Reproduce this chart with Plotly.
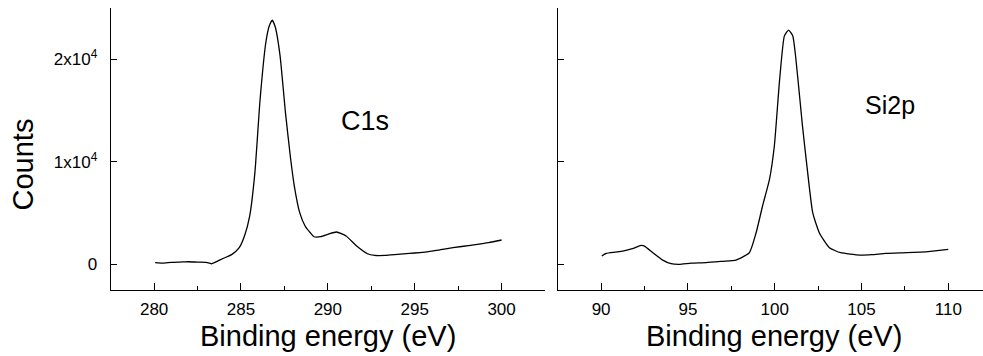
import plotly.graph_objects as go

# C1s spectrum (binding energy eV, counts)
c1s_energy = [280.06, 280.5, 281.0, 281.5, 282.0, 282.5, 283.0, 283.3, 283.65, 284.0, 284.48,
              284.9, 285.2, 285.5, 285.8, 286.1, 286.43, 286.63, 286.8, 286.98, 287.25,
              287.56, 287.86, 288.07, 288.38, 288.69, 288.99, 289.2, 289.6, 290.0, 290.5,
              291.05, 291.66, 292.28, 292.7, 293.3, 294.0, 294.7, 295.3, 295.8, 296.4,
              297.2, 298.2, 299.26, 300.0]
c1s_counts = [163, 120, 200, 230, 260, 220, 200, 65, 325, 600, 977,
              1630, 2770, 4720, 8960, 16120, 21660, 23290, 23840, 23130, 20360,
              14820, 10260, 7650, 5050, 3750, 3090, 2700, 2700, 2930, 3160,
              2770, 1790, 1040, 880, 880, 980, 1075, 1150, 1240, 1400,
              1630, 1860, 2120, 2380]

# Si2p spectrum
si2p_energy = [90.04, 90.29, 90.8, 91.25, 91.8, 92.3, 92.5, 92.98, 93.55, 94.03, 94.5,
               95.2, 96.05, 97.0, 97.77, 98.54, 98.93, 99.3, 99.7, 99.98, 100.27,
               100.56, 100.8, 101.04, 101.32, 101.6, 101.9, 102.19, 102.57, 103.15,
               103.8, 104.9, 105.6, 106.4, 107.6, 108.4, 109.1, 110.0]
si2p_counts = [815, 1075, 1200, 1300, 1530, 1860, 1790, 1140, 420, 65, 0,
               120, 163, 300, 420, 1140, 3090, 5700, 8300, 11560, 17750,
               22310, 22870, 22310, 18400, 13520, 8960, 5050, 3090, 1630,
               1140, 910, 950, 1075, 1140, 1200, 1300, 1470]

x_ticks_c = [280, 285, 290, 295, 300]
x_ticks_si = [90, 95, 100, 105, 110]
y_tickvals = [0, 10000, 20000]
y_ticktext = ["0", "1x10<sup>4</sup>", "2x10<sup>4</sup>"]

W, H = 983, 356
FONT = "Liberation Sans, Arial, sans-serif"

fig = go.Figure()
fig.add_trace(go.Scatter(x=c1s_energy, y=c1s_counts, mode="lines",
                         line=dict(color="black", width=1.3, shape="spline", smoothing=0.5),
                         xaxis="x", yaxis="y", showlegend=False))
fig.add_trace(go.Scatter(x=si2p_energy, y=si2p_counts, mode="lines",
                         line=dict(color="black", width=1.3, shape="spline", smoothing=0.5),
                         xaxis="x2", yaxis="y2", showlegend=False))

ydom = [(H - 290) / H, (H - 8.3) / H]

common_x = dict(showline=True, linecolor="black", linewidth=1, mirror=False,
                ticks="inside", ticklen=7, tickcolor="black", tickwidth=1,
                showgrid=False, zeroline=False, automargin=False,
                tickfont=dict(family=FONT, size=17, color="black"),
                minor=dict(dtick=2.5, ticks="inside", ticklen=4, tickcolor="black", showgrid=False),
                ticklabelstandoff=4)
common_y = dict(showline=True, linecolor="black", linewidth=1,
                ticks="inside", ticklen=6, tickcolor="black", tickwidth=1,
                showgrid=False, zeroline=False, range=[-2500, 25000], automargin=False,
                tickvals=y_tickvals)

fig.update_layout(
    width=W, height=H,
    margin=dict(l=0, r=0, t=0, b=0, autoexpand=False),
    paper_bgcolor="white", plot_bgcolor="white",
    xaxis=dict(domain=[110.7 / W, 545 / W], range=[277.5, 302.5],
               tickvals=x_ticks_c, anchor="y", **common_x),
    xaxis2=dict(domain=[557.7 / W, 1.0], range=[87.5, 112.0],
                tickvals=x_ticks_si, anchor="y2", **common_x),
    yaxis=dict(domain=ydom, anchor="x", ticktext=y_ticktext,
               tickfont=dict(family=FONT, size=17, color="black"),
               ticklabelstandoff=9, **common_y),
    yaxis2=dict(domain=ydom, anchor="x2", showticklabels=False, **common_y),
    annotations=[
        dict(text="Counts", x=22.5 / W, y=(H - 165) / H, xref="paper", yref="paper",
             textangle=-90, showarrow=False, xanchor="center", yanchor="middle",
             font=dict(family=FONT, size=29, color="black")),
        dict(text="C1s", x=365 / W, y=(H - 121) / H, xref="paper", yref="paper",
             showarrow=False, xanchor="center", yanchor="middle",
             font=dict(family=FONT, size=27, color="black")),
        dict(text="Si2p", x=890 / W, y=(H - 105) / H, xref="paper", yref="paper",
             showarrow=False, xanchor="center", yanchor="middle",
             font=dict(family=FONT, size=25, color="black")),
        dict(text="Binding energy (eV)", x=328 / W, y=(H - 336) / H, xref="paper", yref="paper",
             showarrow=False, xanchor="center", yanchor="middle",
             font=dict(family=FONT, size=29, color="black")),
        dict(text="Binding energy (eV)", x=774 / W, y=(H - 336) / H, xref="paper", yref="paper",
             showarrow=False, xanchor="center", yanchor="middle",
             font=dict(family=FONT, size=29, color="black")),
    ],
)

fig.write_html("out.html", config={"displayModeBar": False},
               post_script="document.body.style.margin='0';")
